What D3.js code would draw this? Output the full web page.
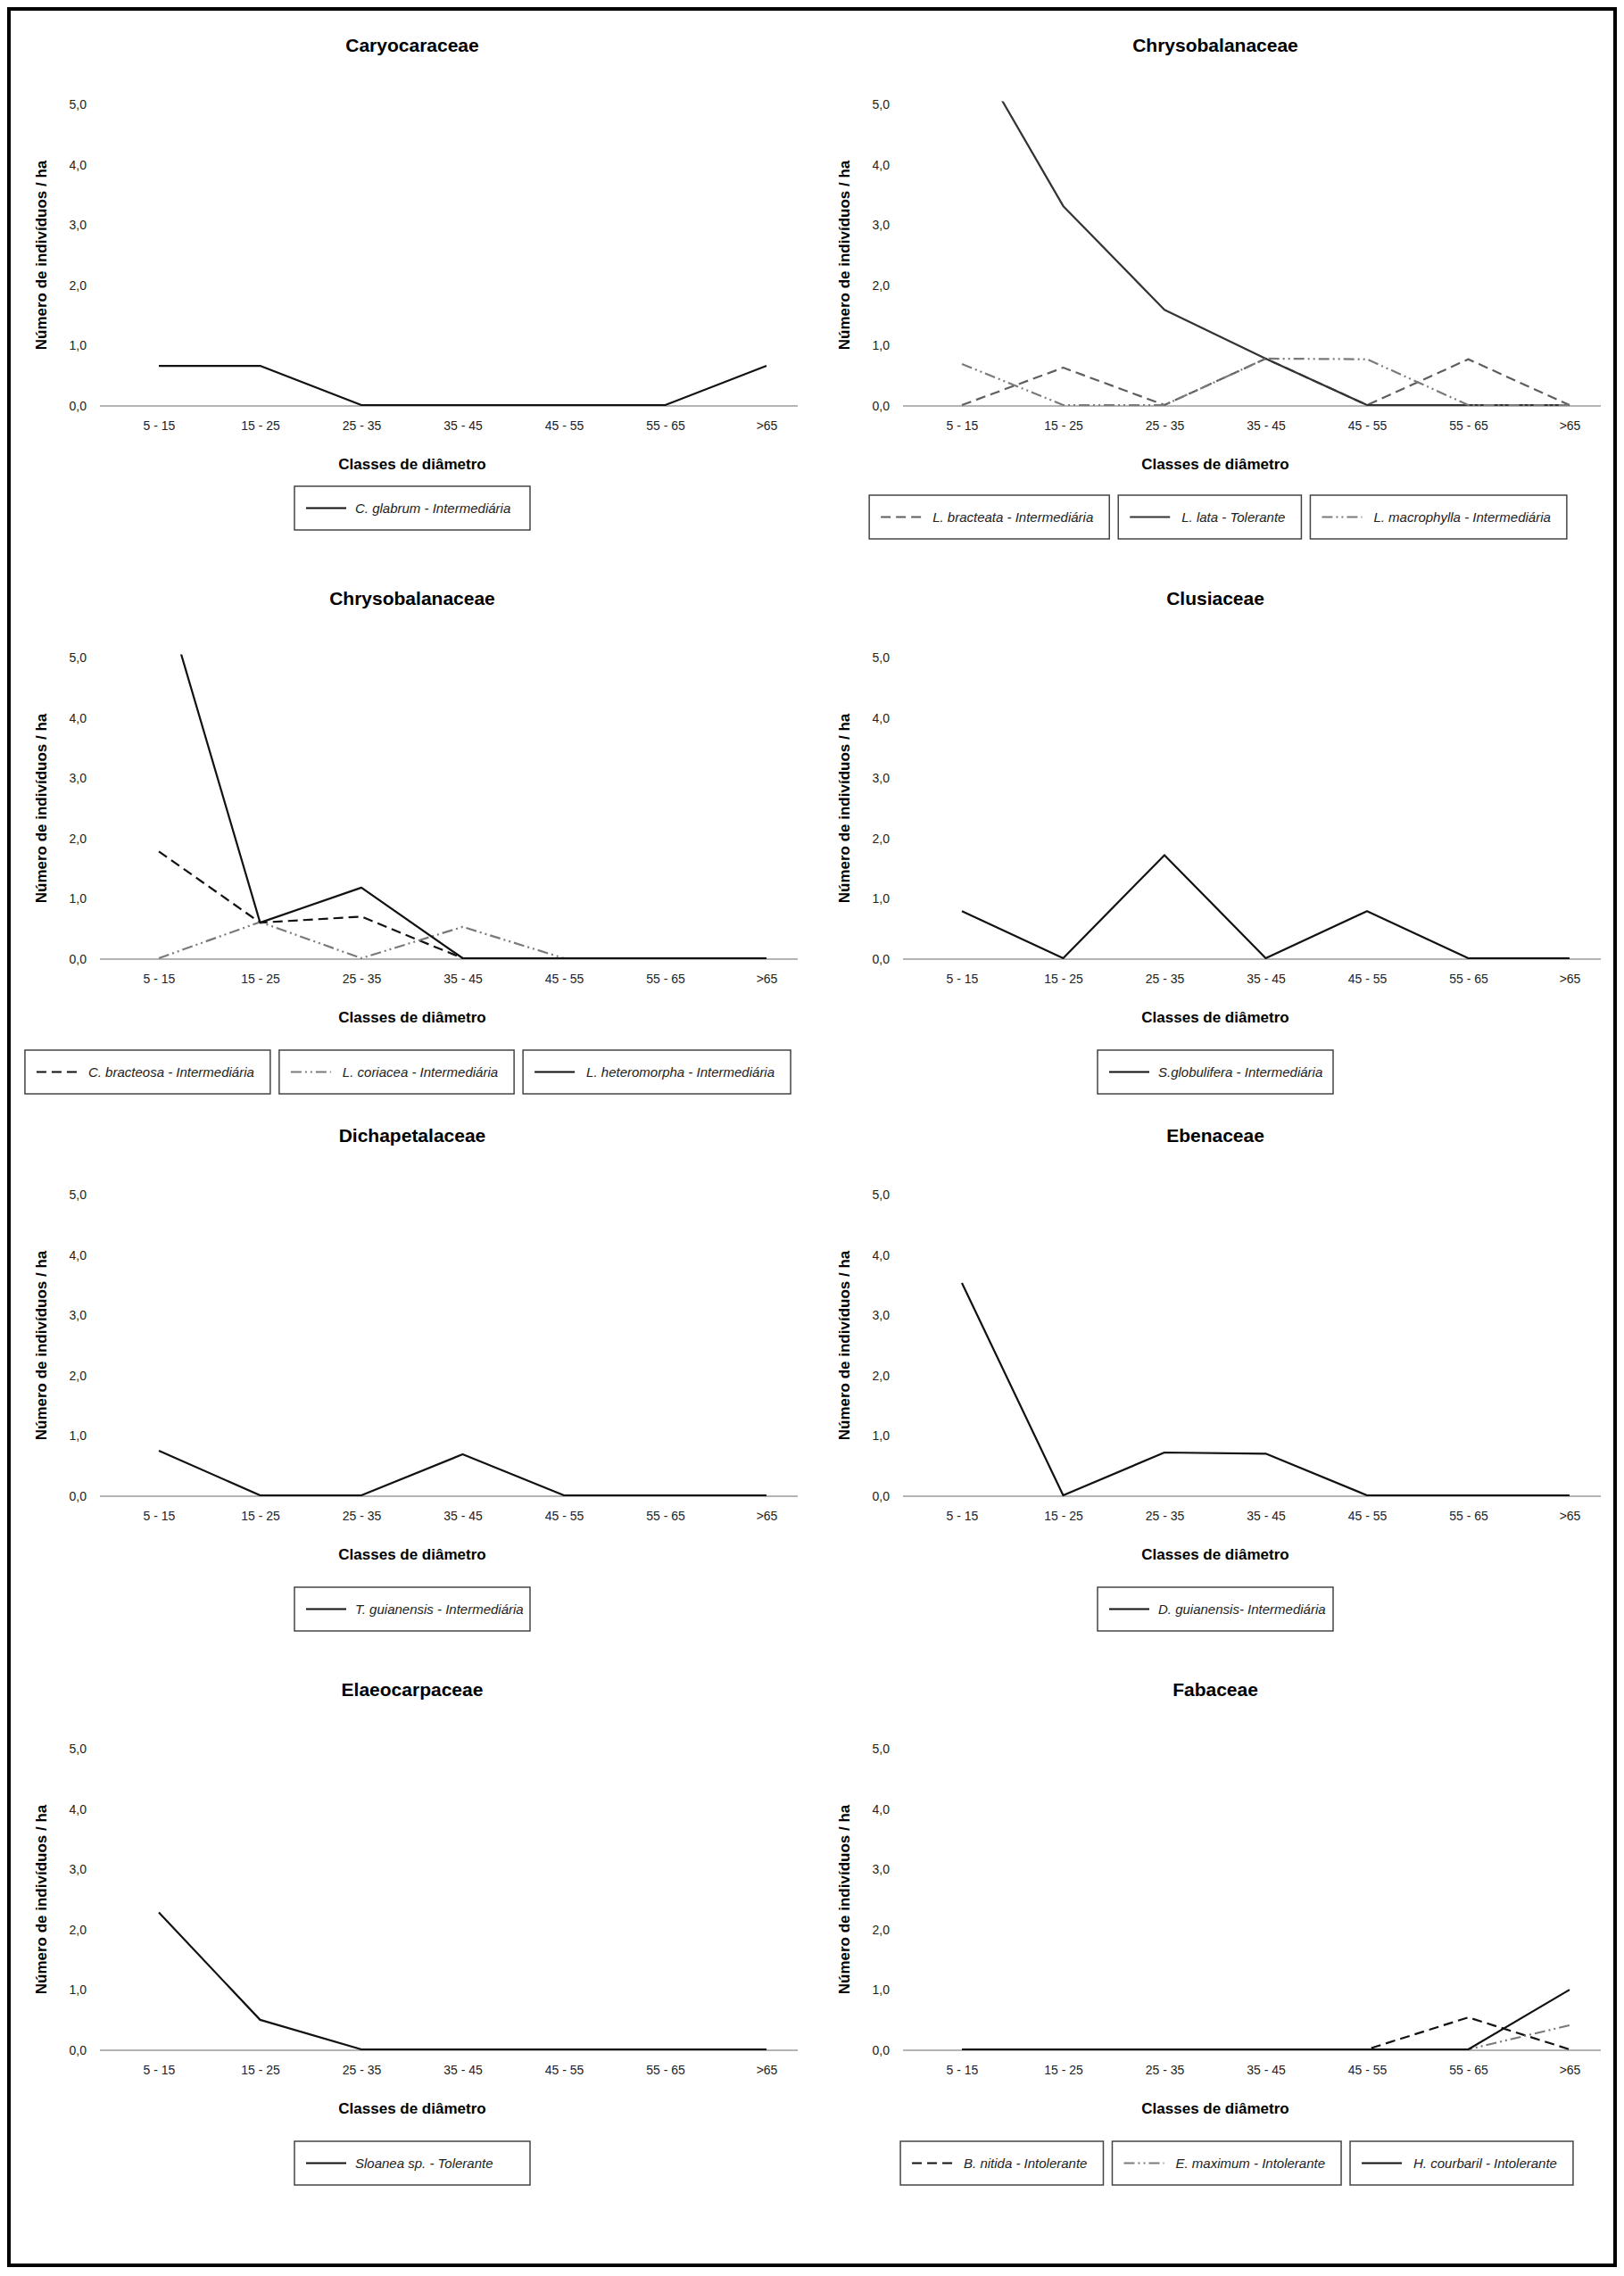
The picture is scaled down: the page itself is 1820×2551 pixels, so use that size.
<!DOCTYPE html>
<html>
<head>
<meta charset="utf-8">
<script src="https://cdn.jsdelivr.net/npm/d3@7"></script>
<style>
  body { margin: 0; background: #fff; }
  svg { display: block; font-family: "Liberation Sans", Arial, sans-serif; }
</style>
</head>
<body>
<svg id="chart"></svg>
<script>
// Diameter classes and y ticks
const categories = ["5 - 15", "15 - 25", "25 - 35", "35 - 45", "45 - 55", "55 - 65", ">65"];
const yTickValues = [0, 1, 2, 3, 4, 5];

// Caryocaraceae
const cGlabrum = [0.65, 0.65, 0, 0, 0, 0, 0.65];
// Chrysobalanaceae (1)
const lBracteata = [0, 0.62, 0, 0.77, 0, 0.76, 0];
const lLata = [6.2, 3.3, 1.58, 0.77, 0, 0, 0];
const lMacrophylla = [0.68, 0, 0, 0.77, 0.76, 0, 0];
// Chrysobalanaceae (2)
const cBracteosa = [1.77, 0.59, 0.69, 0, 0, 0, 0];
const lCoriacea = [0, 0.6, 0, 0.52, 0, 0, 0];
const lHeteromorpha = [6.3, 0.59, 1.17, 0, 0, 0, 0];
// Clusiaceae
const sGlobulifera = [0.78, 0, 1.71, 0, 0.78, 0, 0];
// Dichapetalaceae
const tGuianensis = [0.74, 0, 0, 0.68, 0, 0, 0];
// Ebenaceae
const dGuianensis = [3.52, 0, 0.71, 0.69, 0, 0, 0];
// Elaeocarpaceae
const sloaneaSp = [2.27, 0.49, 0, 0, 0, 0, 0];
// Fabaceae
const bNitida = [0, 0, 0, 0, 0, 0.53, 0];
const eMaximum = [0, 0, 0, 0, 0, 0, 0.4];
const hCourbaril = [0, 0, 0, 0, 0, 0, 0.99];

// Line styles
const styles = {
  solid: { color: "#111", dash: null },
  solidDark: { color: "#333", dash: null },
  dashed: { color: "#111", dash: "11,6" },
  dashedGray: { color: "#5e5e5e", dash: "11,6" },
  dashDot: { color: "#7a7a7a", dash: "12,4,2,4,2,4" }
};

const panels = [
  { title: "Caryocaraceae", series: [
    { label: "C. glabrum - Intermediária", values: cGlabrum, style: "solid" }] },
  { title: "Chrysobalanaceae", series: [
    { label: "L. bracteata - Intermediária", values: lBracteata, style: "dashedGray" },
    { label: "L. lata - Tolerante", values: lLata, style: "solidDark" },
    { label: "L. macrophylla - Intermediária", values: lMacrophylla, style: "dashDot" }] },
  { title: "Chrysobalanaceae", series: [
    { label: "C. bracteosa - Intermediária", values: cBracteosa, style: "dashed" },
    { label: "L. coriacea - Intermediária", values: lCoriacea, style: "dashDot" },
    { label: "L. heteromorpha - Intermediária", values: lHeteromorpha, style: "solid" }] },
  { title: "Clusiaceae", series: [
    { label: "S.globulifera - Intermediária", values: sGlobulifera, style: "solid" }] },
  { title: "Dichapetalaceae", series: [
    { label: "T. guianensis - Intermediária", values: tGuianensis, style: "solid" }] },
  { title: "Ebenaceae", series: [
    { label: "D. guianensis- Intermediária", values: dGuianensis, style: "solid" }] },
  { title: "Elaeocarpaceae", series: [
    { label: "Sloanea sp. - Tolerante", values: sloaneaSp, style: "solid" }] },
  { title: "Fabaceae", series: [
    { label: "B. nitida - Intolerante", values: bNitida, style: "dashed" },
    { label: "E. maximum - Intolerante", values: eMaximum, style: "dashDot" },
    { label: "H. courbaril - Intolerante", values: hCourbaril, style: "solid" }] }
];

// Layout
const width = 1820, height = 2551;
const colX = [0, 900];
const rowBase = [455, 1075, 1677, 2298];
const unit = 67.6;
const legendCenter = [462, 465, 457, 462, 462, 462, 462, 486];
const legendDy = [-12, -2, 0, 0, 0, 0, 0, 0];
const fmt = (v) => d3.format(".1f")(v).replace(".", ",");

const svg = d3.select("#chart").attr("width", width).attr("height", height);

panels.forEach((p, i) => {
  const col = i % 2, row = Math.floor(i / 2);
  const base = rowBase[row];
  const g = svg.append("g").attr("transform", `translate(${colX[col]},0)`);

  // Define Scales
  const x = d3.scalePoint().domain(categories).range([178, 859]);
  const y = d3.scaleLinear().domain([0, 5]).range([base, base - 5 * unit]);

  // Title
  g.append("text")
    .attr("x", 462).attr("y", base - 405)
    .attr("text-anchor", "middle").attr("dominant-baseline", "central")
    .style("font-weight", "bold").style("font-size", "21px")
    .text(p.title);

  // Y axis labels (no line, no ticks)
  const yAxis = d3.axisLeft(y).tickValues(yTickValues).tickSize(0).tickPadding(0).tickFormat(fmt);
  const ya = g.append("g").attr("transform", "translate(97,0)").call(yAxis);
  ya.select(".domain").remove();
  ya.selectAll("text").attr("font-size", 14).attr("font-family", null).attr("fill", "#222");

  // X axis gray line + labels
  g.append("line")
    .attr("x1", 112).attr("x2", 894).attr("y1", y(0)).attr("y2", y(0))
    .attr("stroke", "#b4b4b4").attr("stroke-width", 2);
  const xAxis = d3.axisBottom(x).tickSize(0).tickPadding(17);
  const xa = g.append("g").attr("transform", `translate(0,${base})`).call(xAxis);
  xa.select(".domain").remove();
  xa.selectAll("text").attr("font-size", 14).attr("font-family", null).attr("fill", "#222");

  // Axis titles
  g.append("text")
    .attr("x", 462).attr("y", base + 65)
    .attr("text-anchor", "middle").attr("dominant-baseline", "central")
    .style("font-weight", "bold").style("font-size", "17px")
    .text("Classes de diâmetro");
  g.append("text")
    .attr("transform", `translate(46,${y(2.5)}) rotate(-90)`)
    .attr("text-anchor", "middle").attr("dominant-baseline", "central")
    .style("font-weight", "bold").style("font-size", "17px")
    .text("Número de indivíduos / ha");

  // Clip for values above the top of the plot
  const clipId = "clip" + i;
  g.append("clipPath").attr("id", clipId)
    .append("rect")
    .attr("x", 112).attr("y", y(5.05))
    .attr("width", 782).attr("height", y(0) - y(5.05) + 6);

  // Lines
  const line = d3.line()
    .x((d, k) => x(categories[k]))
    .y((d) => y(d) - 1);

  g.append("g").attr("clip-path", `url(#${clipId})`)
    .selectAll("path")
    .data(p.series)
    .join("path")
    .attr("d", (s) => line(s.values))
    .attr("fill", "none")
    .attr("stroke", (s) => styles[s.style].color)
    .attr("stroke-width", 2.2)
    .attr("stroke-dasharray", (s) => styles[s.style].dash)
    .attr("stroke-linejoin", "round");

  // Legend
  const top = base + 102 + legendDy[i];
  const boxH = 49;
  const legend = g.append("g");
  const items = p.series.map((s) => {
    const ig = legend.append("g");
    const t = ig.append("text")
      .attr("dominant-baseline", "central")
      .attr("y", top + boxH / 2)
      .style("font-style", "italic").style("font-size", "15px")
      .attr("fill", "#222")
      .text(s.label);
    return { s, ig, t, w: t.node().getComputedTextLength() };
  });
  const single = items.length === 1;
  const widths = items.map((it) => (single ? 264 : it.w + 89));
  const gap = 10;
  const total = d3.sum(widths) + gap * (items.length - 1);
  let cx = legendCenter[i] - total / 2;
  items.forEach((it, k) => {
    const st = styles[it.s.style];
    it.ig.insert("rect", "text")
      .attr("x", cx).attr("y", top)
      .attr("width", widths[k]).attr("height", boxH)
      .attr("fill", "#fff").attr("stroke", "#444").attr("stroke-width", 1.5);
    it.ig.append("line")
      .attr("x1", cx + 13).attr("x2", cx + 58)
      .attr("y1", top + boxH / 2).attr("y2", top + boxH / 2)
      .attr("stroke", st.color).attr("stroke-width", 2.2)
      .attr("stroke-dasharray", st.dash);
    it.t.attr("x", cx + (single ? 68 : 71));
    cx += widths[k] + gap;
  });
});

// Outer frame
svg.append("rect")
  .attr("x", 10).attr("y", 10)
  .attr("width", 1800).attr("height", 2529)
  .attr("fill", "none").attr("stroke", "#000").attr("stroke-width", 4);
</script>
</body>
</html>
